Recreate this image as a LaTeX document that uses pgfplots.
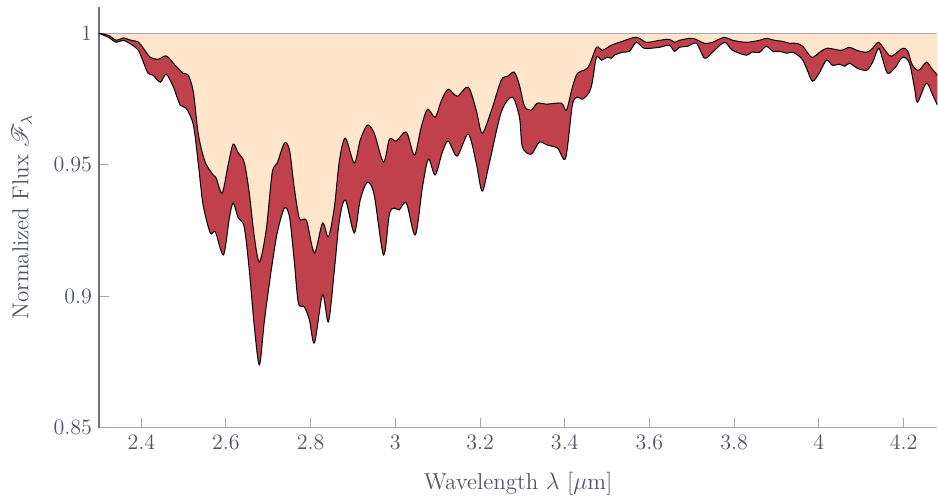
\documentclass[border=0pt]{standalone}
\usepackage{pgfplots}
\usepackage{pgfplotstable}
\usepackage{mathrsfs}
\pgfplotsset{compat=1.18}
\usepgfplotslibrary{fillbetween}
\definecolor{peach}{RGB}{254,229,204}
\definecolor{dred}{RGB}{192,65,75}
\definecolor{txt}{RGB}{80,84,100}
\definecolor{axgray}{RGB}{165,167,175}
\definecolor{yaxgray}{RGB}{110,114,128}

\pgfplotstableread{
x y
2.300 1.0000
2.322 0.99924
2.341 0.99734
2.357 0.99822
2.376 0.99734
2.393 0.99670
2.405 0.99430
2.421 0.99089
2.440 0.99013
2.459 0.99138
2.480 0.98785
2.499 0.98481
2.511 0.98405
2.523 0.97760
2.535 0.96127
2.551 0.95102
2.570 0.94608
2.577 0.94494
2.591 0.93925
2.605 0.94988
2.617 0.95785
2.629 0.95444
2.643 0.95102
2.655 0.93925
2.667 0.92254
2.679 0.91305
2.695 0.92520
2.709 0.94684
2.721 0.95064
2.738 0.95823
2.750 0.95557
2.761 0.94153
2.773 0.92976
2.785 0.92938
2.792 0.92786
2.809 0.91647
2.828 0.92786
2.842 0.92254
2.856 0.93393
2.868 0.95178
2.882 0.96013
2.903 0.95064
2.917 0.95937
2.934 0.96507
2.950 0.96203
2.972 0.95102
2.986 0.95975
3.002 0.95899
3.026 0.96241
3.045 0.95368
3.061 0.96431
3.076 0.97114
3.094 0.96810
3.109 0.97456
3.125 0.97874
3.146 0.97608
3.172 0.97950
3.191 0.97076
3.205 0.96203
3.227 0.97076
3.250 0.98215
3.265 0.98367
3.281 0.98519
3.293 0.98026
3.305 0.97228
3.321 0.97076
3.335 0.97342
3.357 0.97304
3.392 0.97342
3.404 0.97076
3.418 0.97950
3.430 0.98481
3.446 0.98595
3.458 0.98785
3.475 0.99468
3.489 0.99354
3.510 0.99544
3.536 0.99696
3.569 0.99848
3.593 0.99658
3.624 0.99734
3.647 0.99772
3.659 0.99658
3.671 0.99734
3.702 0.99810
3.730 0.99620
3.749 0.99658
3.777 0.99848
3.796 0.99734
3.829 0.99658
3.860 0.99734
3.876 0.99810
3.895 0.99734
3.914 0.99696
3.931 0.99620
3.947 0.99620
3.962 0.99506
3.983 0.99089
4.002 0.99279
4.018 0.99430
4.037 0.99392
4.054 0.99354
4.073 0.99468
4.089 0.99354
4.113 0.99279
4.127 0.99430
4.141 0.99658
4.160 0.99279
4.172 0.99127
4.198 0.99430
4.210 0.99317
4.221 0.98785
4.236 0.98595
4.254 0.98899
4.266 0.98671
4.280 0.98405
}\upperdata

\pgfplotstableread{
x y
2.300 1.0000
2.322 0.99848
2.341 0.99658
2.357 0.99734
2.376 0.99582
2.393 0.99354
2.405 0.98899
2.416 0.98481
2.428 0.98405
2.445 0.98139
2.459 0.98443
2.476 0.97950
2.492 0.97266
2.506 0.97152
2.523 0.96507
2.535 0.94988
2.546 0.93469
2.563 0.92406
2.575 0.92444
2.594 0.91571
2.608 0.92976
2.617 0.93545
2.629 0.92976
2.643 0.92634
2.655 0.91001
2.667 0.88837
2.679 0.87394
2.691 0.89102
2.707 0.91001
2.721 0.92406
2.738 0.93355
2.750 0.93014
2.761 0.91381
2.771 0.89748
2.785 0.89596
2.797 0.89102
2.809 0.88229
2.828 0.90052
2.842 0.89027
2.856 0.91001
2.868 0.92900
2.882 0.93659
2.903 0.92406
2.917 0.93659
2.934 0.94342
2.950 0.93849
2.972 0.91571
2.986 0.93127
2.998 0.93355
3.009 0.93279
3.026 0.93545
3.047 0.92330
3.064 0.94153
3.078 0.95216
3.094 0.94608
3.111 0.95481
3.125 0.95899
3.146 0.95330
3.172 0.96165
3.191 0.95064
3.205 0.94001
3.222 0.95064
3.250 0.97000
3.276 0.97570
3.293 0.96810
3.300 0.95671
3.321 0.95406
3.340 0.95861
3.359 0.95747
3.383 0.95633
3.402 0.95254
3.418 0.97266
3.430 0.97570
3.442 0.97494
3.458 0.97760
3.465 0.98139
3.475 0.99089
3.487 0.98975
3.500 0.99089
3.510 0.99051
3.517 0.99165
3.536 0.99279
3.553 0.99317
3.569 0.99658
3.588 0.99430
3.624 0.99468
3.647 0.99544
3.659 0.99317
3.671 0.99468
3.690 0.99506
3.711 0.99620
3.730 0.99051
3.749 0.99279
3.777 0.99658
3.796 0.99354
3.829 0.99165
3.841 0.99279
3.860 0.99279
3.876 0.99506
3.891 0.99317
3.907 0.99317
3.924 0.99241
3.938 0.99279
3.959 0.99051
3.971 0.98671
3.985 0.98177
4.002 0.98519
4.018 0.98975
4.032 0.98785
4.049 0.98823
4.061 0.98747
4.073 0.98861
4.091 0.98671
4.113 0.98595
4.127 0.98899
4.141 0.99430
4.150 0.99051
4.162 0.98481
4.179 0.98671
4.198 0.99089
4.214 0.98861
4.226 0.97912
4.233 0.97380
4.254 0.98101
4.269 0.97646
4.280 0.97266
}\lowerdata

\begin{document}
\begin{tikzpicture}
\begin{axis}[
  scale only axis,
  width=419.5pt, height=210.5pt,
  xmin=2.3, xmax=4.28, ymin=0.85, ymax=1.01,
  axis lines=left,
  axis line style={-, color=axgray, line width=0.6pt},
  x axis line style={-, color=axgray},
  y axis line style={-, color=yaxgray},
  tick align=inside,
  major tick length=5pt,
  tick style={color=axgray, line width=0.5pt},
  xtick={2.4,2.6,...,4.21},
  ytick={0.85,0.9,0.95,1},
  yticklabels={0.85,0.9,0.95,1},
  xticklabels={2.4,2.6,2.8,3,3.2,3.4,3.6,3.8,4,4.2},
  tick label style={font=\fontsize{11}{13}\selectfont, color=txt},
  label style={font=\fontsize{11.5}{13}\selectfont, color=txt},
  xlabel={Wavelength $\lambda$ [$\mu$m]},
  ylabel={Normalized Flux $\mathscr{F}_{\lambda}$},
  xlabel style={yshift=-4pt},
  ylabel style={yshift=4pt},
  clip=true,
]
\addplot[name path=U, draw=none, smooth, tension=0.5] table {\upperdata};
\addplot[name path=L, draw=none, smooth, tension=0.5] table {\lowerdata};
\addplot[name path=T, draw=none] coordinates {(2.3,1) (4.28,1)};
\addplot[fill=peach, draw=none] fill between[of=T and U];
\addplot[fill=dred, draw=none] fill between[of=U and L];
\addplot[axgray, line width=0.5pt] coordinates {(2.3,1) (4.28,1)};
\addplot[black, line width=0.5pt, smooth, tension=0.5] table {\upperdata};
\addplot[black, line width=0.5pt, smooth, tension=0.5] table {\lowerdata};
\end{axis}
\path (-49.5pt,-36pt) rectangle (419.5pt,214pt);
\end{tikzpicture}
\end{document}
